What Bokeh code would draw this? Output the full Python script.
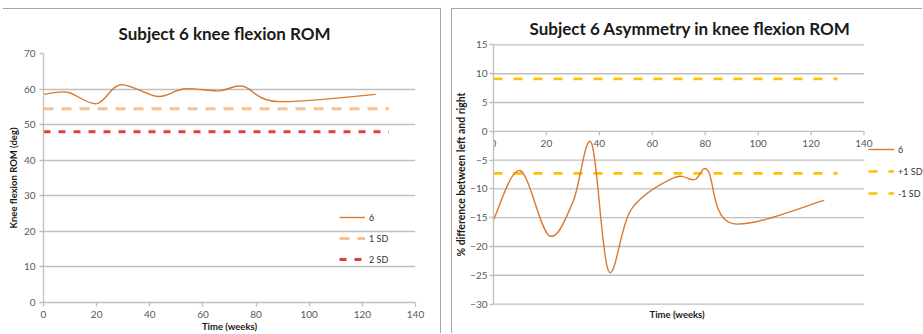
from bokeh.plotting import figure
from bokeh.models import Range1d, FixedTicker, Legend, LegendItem, ColumnDataSource, Title
from bokeh.embed import file_html
from bokeh.resources import INLINE

# ---------------- data ----------------
x_ticks = [0, 20, 40, 60, 80, 100, 120, 140]
sd_weeks = [0, 130]

rom_weeks = [0, 9, 20, 29, 43, 53, 66, 75, 88, 125]
rom_values = [58.5, 59.1, 55.9, 61.2, 57.9, 60.1, 59.5, 60.8, 56.5, 58.5]
rom_sd1 = [54.5, 54.5]
rom_sd2 = [48.0, 48.0]
rom_y_ticks = [0, 10, 20, 30, 40, 50, 60, 70]

asym_weeks = [0, 10, 21, 30, 37, 43.5, 52, 68, 76, 81, 90, 125]
asym_values = [-15.4, -6.8, -18.1, -12.3, -2.0, -24.3, -13.6, -8.1, -8.4, -6.8, -16.0, -12.0]
asym_plus_sd = [9.1, 9.1]
asym_minus_sd = [-7.3, -7.3]
asym_y_ticks = [-30, -25, -20, -15, -10, -5, 0, 5, 10, 15]

FONT = "Lato"
GRID = "#BFBFBF"
TICK_TXT = "#595959"
SERIES = "#D9792F"
DARK = "#1a1a1a"


def smooth_segments(xs, ys):
    """Bezier control points for an Excel-like smoothed line through the points."""
    n = len(xs)
    d = dict(x0=[], y0=[], x1=[], y1=[], cx0=[], cy0=[], cx1=[], cy1=[])
    for i in range(n - 1):
        a = max(i - 1, 0)
        b = min(i + 2, n - 1)
        d["x0"].append(xs[i]); d["y0"].append(ys[i])
        d["x1"].append(xs[i + 1]); d["y1"].append(ys[i + 1])
        d["cx0"].append(xs[i] + (xs[i + 1] - xs[a]) / 6.0)
        d["cy0"].append(ys[i] + (ys[i + 1] - ys[a]) / 6.0)
        d["cx1"].append(xs[i + 1] - (xs[b] - xs[i]) / 6.0)
        d["cy1"].append(ys[i + 1] - (ys[b] - ys[i]) / 6.0)
    return ColumnDataSource(d)


def base_fig(w, h, xr, yr, yt, ml, mr, mt, mb, title, offset, standoff):
    p = figure(width=w, height=h, x_range=Range1d(*xr), y_range=Range1d(*yr),
               output_backend="svg", toolbar_location=None,
               min_border_left=ml, min_border_right=mr, min_border_top=mt, min_border_bottom=mb)
    p.outline_line_color = None
    p.xgrid.visible = False
    p.title.text = title
    p.title.align = "left"
    p.title.offset = offset
    p.title.text_font = FONT
    p.title.text_font_size = "17px"
    p.title.text_font_style = "bold"
    p.title.text_color = DARK
    p.title.standoff = standoff
    for ax in (p.xaxis[0], p.yaxis[0]):
        ax.axis_line_color = GRID
        ax.axis_line_width = 1.3
        ax.major_tick_line_color = GRID
        ax.major_tick_line_width = 1.3
        ax.major_tick_out = 4
        ax.major_tick_in = 0
        ax.minor_tick_line_color = None
        ax.major_label_text_font = FONT
        ax.major_label_text_font_size = "10px"
        ax.major_label_text_color = TICK_TXT
        ax.axis_label_text_font = FONT
        ax.axis_label_text_font_size = "9.5px"
        ax.axis_label_text_font_style = "bold"
        ax.axis_label_text_color = DARK
    p.yaxis.ticker = FixedTicker(ticks=yt)
    p.yaxis.major_label_standoff = 4
    p.yaxis.axis_label_standoff = 2
    return p


def style_legend(lg):
    lg.border_line_color = None
    lg.background_fill_alpha = 0
    lg.padding = 0
    lg.margin = 0
    lg.spacing = 1
    lg.glyph_width = 26
    lg.glyph_height = 20
    lg.label_height = 20
    lg.label_standoff = 4
    lg.label_text_font = FONT
    lg.label_text_font_size = "9px"
    lg.label_text_color = "#333333"


# ---------------- left chart ----------------
p1 = base_fig(438, 325, (0, 140), (0, 70), rom_y_ticks, 40, 26, 44, 32,
              "Subject 6 knee flexion ROM", 75, 20)
p1.ygrid.ticker = FixedTicker(ticks=rom_y_ticks)
p1.ygrid.grid_line_color = GRID
p1.ygrid.grid_line_width = 1.3
p1.xaxis.ticker = FixedTicker(ticks=x_ticks)
p1.xaxis.major_label_standoff = 4
p1.xaxis.axis_label = "Time (weeks)"
p1.xaxis.axis_label_standoff = 0
p1.yaxis.axis_label = "Knee flexion ROM (deg)"

r_sd1 = p1.line(sd_weeks, rom_sd1, line_color="#FAC090", line_width=3, line_dash="10 8")
r_sd2 = p1.line(sd_weeks, rom_sd2, line_color="#E0403A", line_width=3, line_dash="7 8")
r_6a = p1.bezier(x0="x0", y0="y0", x1="x1", y1="y1", cx0="cx0", cy0="cy0", cx1="cx1", cy1="cy1",
                 source=smooth_segments(rom_weeks, rom_values), line_color=SERIES, line_width=1.4)

lg1 = Legend(items=[LegendItem(label="6", renderers=[r_6a]),
                    LegendItem(label="1 SD", renderers=[r_sd1]),
                    LegendItem(label="2 SD", renderers=[r_sd2])],
             location=(296, 33))
style_legend(lg1)
p1.add_layout(lg1)

# ---------------- right chart ----------------
p2 = base_fig(471, 325, (0, 162.5), (-30.25, 15.25), asym_y_ticks, 38, 0, 34, 29,
              "Subject 6 Asymmetry in knee flexion ROM", 36, 10)
p2.ygrid.visible = False
p2.yaxis.bounds = (-30, 15)
p2.yaxis.major_label_standoff = 2
p2.yaxis.axis_label_standoff = 0
p2.yaxis.axis_label_text_font_size = "10.5px"
p2.xaxis.visible = False
p2.yaxis.axis_label = "% difference between left and right"
p2.add_layout(Title(text="Time (weeks)", align="left", offset=156, standoff=3,
                    text_font=FONT, text_font_size="9.5px", text_font_style="bold",
                    text_color=DARK), "below")

# horizontal grid lines, from the first to the last x tick
n_y = len(asym_y_ticks)
p2.segment(x0=[x_ticks[0]] * n_y, y0=asym_y_ticks, x1=[x_ticks[-1]] * n_y, y1=asym_y_ticks,
           line_color=GRID, line_width=1.3)

# x axis drawn across y = 0
zero_y = [0] * len(x_ticks)
p2.segment(x0=x_ticks, y0=zero_y, x1=x_ticks, y1=[-0.7] * len(x_ticks),
           line_color=GRID, line_width=1.3)
p2.text(x=x_ticks, y=zero_y, text=[str(t) for t in x_ticks], text_align="center",
        text_baseline="top", y_offset=9, text_font_size="10px", text_color=TICK_TXT,
        text_font={"value": FONT})

r_p = p2.line(sd_weeks, asym_plus_sd, line_color="#FFC000", line_width=2.6, line_dash="9 11")
r_m = p2.line(sd_weeks, asym_minus_sd, line_color="#FFC000", line_width=2.6, line_dash="9 11")
r_6b = p2.bezier(x0="x0", y0="y0", x1="x1", y1="y1", cx0="cx0", cy0="cy0", cx1="cx1", cy1="cy1",
                 source=smooth_segments(asym_weeks, asym_values), line_color=SERIES, line_width=1.4)

lg2 = Legend(items=[LegendItem(label="6", renderers=[r_6b]),
                    LegendItem(label="+1 SD", renderers=[r_p]),
                    LegendItem(label="-1 SD", renderers=[r_m])],
             location=(375, 102))
style_legend(lg2)
lg2.spacing = 2
p2.add_layout(lg2)

border = "1px solid #A6A6A6"
p1.styles = {"position": "absolute", "left": "3px", "top": "8px",
             "border-top": border, "border-right": border}
p2.styles = {"position": "absolute", "left": "451px", "top": "8px",
             "border-top": border, "border-left": border}

open("out.html", "w").write(file_html([p1, p2], INLINE))
